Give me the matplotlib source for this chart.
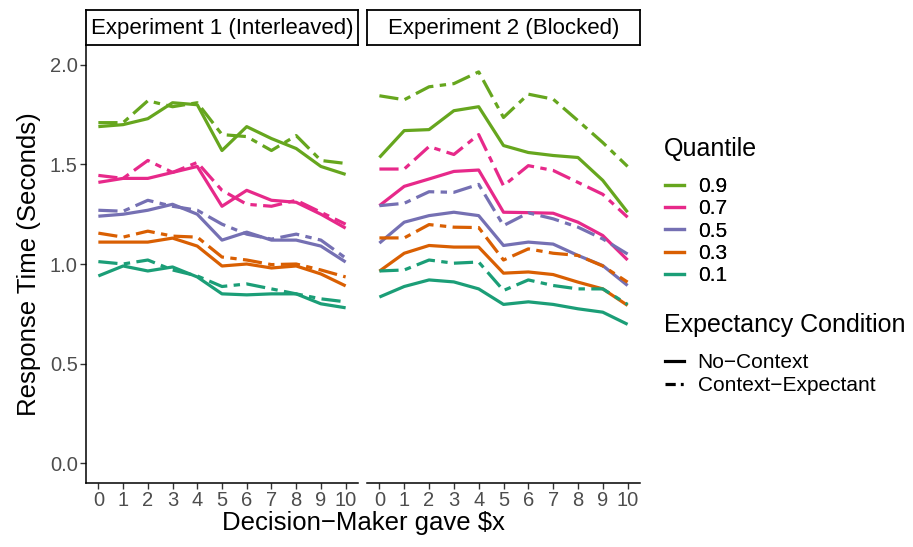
import matplotlib
matplotlib.use("Agg")
import matplotlib.pyplot as plt
from matplotlib.lines import Line2D
import numpy as np

plt.rcParams['font.family'] = ['Liberation Sans', 'DejaVu Sans']

x = list(range(11))
quantiles = ["0.9", "0.7", "0.5", "0.3", "0.1"]
colors = {"0.9": "#66A61E", "0.7": "#E7298A", "0.5": "#7570B3",
          "0.3": "#D95F02", "0.1": "#1B9E77"}
conditions = ["No\u2212Context", "Context\u2212Expectant"]
panels = ["Experiment 1 (Interleaved)", "Experiment 2 (Blocked)"]

# Experiment 1, No-Context
e1_nc = {
    "0.9": [1.69, 1.70, 1.73, 1.81, 1.80, 1.57, 1.69, 1.63, 1.58, 1.49, 1.45],
    "0.7": [1.41, 1.43, 1.43, 1.46, 1.49, 1.29, 1.37, 1.32, 1.31, 1.25, 1.18],
    "0.5": [1.24, 1.25, 1.27, 1.30, 1.25, 1.12, 1.16, 1.12, 1.12, 1.09, 1.01],
    "0.3": [1.11, 1.11, 1.11, 1.13, 1.09, 0.99, 1.00, 0.98, 0.99, 0.95, 0.89],
    "0.1": [0.94, 0.99, 0.965, 0.985, 0.935, 0.85, 0.845, 0.85, 0.85, 0.80, 0.78],
}
# Experiment 1, Context-Expectant
e1_ce = {
    "0.9": [1.71, 1.71, 1.82, 1.79, 1.81, 1.65, 1.64, 1.57, 1.645, 1.52, 1.505],
    "0.7": [1.445, 1.43, 1.52, 1.46, 1.51, 1.37, 1.30, 1.29, 1.32, 1.26, 1.20],
    "0.5": [1.27, 1.265, 1.32, 1.29, 1.27, 1.20, 1.15, 1.125, 1.15, 1.12, 1.03],
    "0.3": [1.155, 1.135, 1.165, 1.14, 1.135, 1.035, 1.02, 0.997, 1.00, 0.97, 0.935],
    "0.1": [1.012, 1.00, 1.02, 0.97, 0.94, 0.887, 0.90, 0.875, 0.85, 0.825, 0.81],
}
# Experiment 2, No-Context
e2_nc = {
    "0.9": [1.535, 1.67, 1.675, 1.77, 1.79, 1.595, 1.56, 1.545, 1.535, 1.42, 1.26],
    "0.7": [1.293, 1.39, 1.427, 1.465, 1.472, 1.26, 1.258, 1.255, 1.21, 1.143, 1.02],
    "0.5": [1.105, 1.21, 1.243, 1.26, 1.243, 1.093, 1.11, 1.10, 1.043, 0.992, 0.892],
    "0.3": [0.964, 1.054, 1.093, 1.085, 1.085, 0.954, 0.96, 0.947, 0.909, 0.875, 0.792],
    "0.1": [0.834, 0.887, 0.92, 0.91, 0.875, 0.797, 0.81, 0.797, 0.775, 0.758, 0.697],
}
# Experiment 2, Context-Expectant
e2_ce = {
    "0.9": [1.845, 1.825, 1.89, 1.906, 1.965, 1.736, 1.853, 1.828, 1.72, 1.61, 1.49],
    "0.7": [1.477, 1.477, 1.59, 1.55, 1.65, 1.393, 1.494, 1.47, 1.41, 1.35, 1.235],
    "0.5": [1.293, 1.305, 1.363, 1.36, 1.40, 1.193, 1.257, 1.227, 1.185, 1.126, 1.05],
    "0.3": [1.131, 1.131, 1.198, 1.185, 1.183, 1.02, 1.076, 1.054, 1.043, 0.99, 0.909],
    "0.1": [0.965, 0.97, 1.02, 1.004, 1.01, 0.867, 0.92, 0.892, 0.875, 0.875, 0.797],
}
data = [(e1_nc, e1_ce), (e2_nc, e2_ce)]

yticks = [0.0, 0.5, 1.0, 1.5, 2.0]
ytick_labels = ["0.0", "0.5", "1.0", "1.5", "2.0"]

W, H = 913, 547
fig = plt.figure(figsize=(W / 100, H / 100), dpi=100)

def fx(px):
    return px / W

def fy(py):
    return 1 - py / H

LW = 2.3
DASH = (6, 2, 2, 2)
tick_col = "#4D4D4D"

panel_px = [(86, 358), (367, 640)]
top_px, bot_px = 45, 483
strip_top = 10

for k, ((l, r), title) in enumerate(zip(panel_px, panels)):
    ax = fig.add_axes([fx(l), fy(bot_px), fx(r - l), (bot_px - top_px) / H])
    nc, ce = data[k]
    for q in quantiles:
        ax.plot(x, nc[q], color=colors[q], lw=LW, solid_capstyle='butt',
                solid_joinstyle='round')
        ax.plot(x, ce[q], color=colors[q], lw=LW, dashes=DASH,
                dash_capstyle='butt', dash_joinstyle='round')
    ax.set_xlim(-0.5, 10.5)
    ax.set_ylim(-0.1, 2.1)
    ax.set_xticks(x)
    ax.set_xticklabels([str(v) for v in x], fontsize=14.5, color=tick_col)
    ax.spines['top'].set_visible(False)
    ax.spines['right'].set_visible(False)
    for s in ['left', 'bottom']:
        ax.spines[s].set_linewidth(1.1)
        ax.spines[s].set_color('black')
    ax.tick_params(axis='both', direction='out', length=4, width=1.0,
                   color='#333333', pad=2)
    if k == 0:
        ax.set_yticks(yticks)
        ax.set_yticklabels(ytick_labels, fontsize=14.5, color=tick_col)
        ax.set_ylabel("Response Time (Seconds)", fontsize=18.5)
        ax.yaxis.set_label_coords(-0.165, 0.5)
    else:
        ax.spines['left'].set_visible(False)
        ax.set_yticks([])
    # strip
    sax = fig.add_axes([fx(l), fy(top_px), fx(r - l), (top_px - strip_top) / H])
    sax.set_xticks([])
    sax.set_yticks([])
    for s in sax.spines.values():
        s.set_linewidth(1.3)
        s.set_color('black')
    sax.text(0.5, 0.47, title, ha='center', va='center', fontsize=16,
             transform=sax.transAxes)

fig.text(fx((86 + 640) / 2), fy(523), "Decision\u2212Maker gave \\$x",
         ha='center', va='center', fontsize=18.5)

# Legends (titles drawn as text, entries as legends)
LFS = 15
fig.text(fx(664), fy(149), "Quantile", ha='left', va='center', fontsize=18)
q_handles = [Line2D([], [], color=colors[q], lw=LW) for q in quantiles]
leg1 = fig.legend(q_handles, quantiles, loc='upper left',
                  bbox_to_anchor=(fx(665), fy(177)),
                  frameon=False, fontsize=LFS,
                  handlelength=0.9, handletextpad=0.67,
                  labelspacing=0.16, borderaxespad=0, borderpad=0)
fig.add_artist(leg1)

fig.text(fx(664), fy(325), "Expectancy Condition", ha='left', va='center',
         fontsize=18)
c_handles = [Line2D([], [], color='black', lw=LW),
             Line2D([], [], color='black', lw=LW, dashes=(3.2, 1.6, 0.9, 1.6))]
leg2 = fig.legend(c_handles, conditions,
                  loc='upper left',
                  bbox_to_anchor=(fx(665), fy(353)),
                  frameon=False, fontsize=LFS,
                  handlelength=0.9, handletextpad=0.67,
                  labelspacing=0.21, borderaxespad=0, borderpad=0)

fig.savefig("out.png", dpi=100, facecolor='white')
